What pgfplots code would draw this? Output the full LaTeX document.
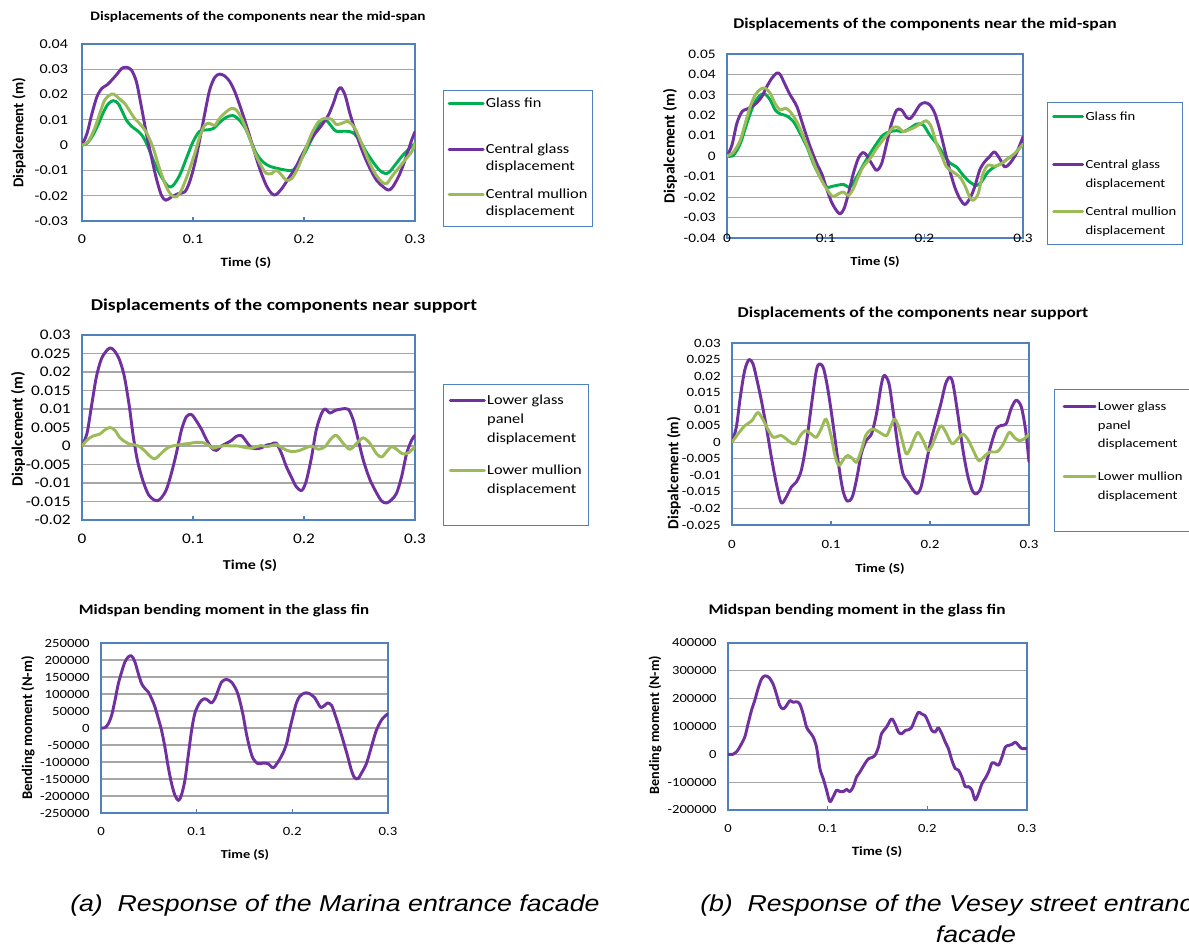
\documentclass[border=0pt]{standalone}
\usepackage{fontspec}
\setmainfont{Carlito}[FakeStretch=1.18]
\newfontfamily\ylfont{Carlito}
\newfontfamily\capfont{Liberation Sans}[FakeStretch=1.16]
\usepackage{pgfplots}
\pgfplotsset{compat=1.18}
\definecolor{cpurple}{HTML}{7030A0}
\definecolor{cgreen}{HTML}{00B050}
\definecolor{clgreen}{HTML}{9BBB59}
\definecolor{frameblue}{HTML}{4F81BD}
\definecolor{gridgray}{HTML}{A6A6A6}
\newcommand\fs[1]{\fontsize{#1}{#1}\selectfont}
\newcommand\LE[1]{{\begin{tabular}[t]{@{}l@{}}#1\end{tabular}}}
\pgfplotsset{
  excel/.style={
    scale only axis, anchor=south west,
    xmin=0, xmax=0.3,
    xtick={0,0.1,0.2,0.3}, xticklabels={0,0.1,0.2,0.3},
    scaled y ticks=false, scaled x ticks=false,
    axis line style={draw=frameblue, line width=1.1pt},
    ymajorgrids, grid style={draw=gridgray, line width=0.8pt},
    xtick pos=bottom, ytick pos=left, tick align=inside, major tick length=3pt,
    x tick style={draw=frameblue, line width=0.9pt},
    y tick style={draw=none},
    yticklabel style={anchor=east, xshift=-5pt},
    every axis plot/.append style={line width=2.2pt, line cap=round, line join=round, smooth, tension=0.5, mark=none},
    legend style={draw=frameblue, line width=0.9pt, anchor=north west, cells={anchor=base west}, nodes={inner sep=1pt, text depth=}, column sep=0pt, fill=white},
  },
}
\begin{document}
\begin{tikzpicture}
\path[use as bounding box] (0,0) rectangle (891.75pt,711pt);
\clip (0,0) rectangle (891.75pt,711pt);

% ---------------- Panel 1 ----------------
\begin{axis}[excel, at={(61.5pt,545.25pt)}, width=249.75pt, height=132.75pt,
  ymin=-0.03, ymax=0.04,
  ytick={-0.03,-0.02,-0.01,0,0.01,0.02,0.03,0.04},
  yticklabels={-0.03,-0.02,-0.01,0,0.01,0.02,0.03,0.04},
  tick label style={font=\fs{10.2}},
  yticklabel style={xshift=-2pt},
  xticklabel style={yshift=-7pt},
  legend style={at={(1.084,0.740)}, font=\fontsize{10.4}{12.75}\selectfont, row sep=6.6pt, inner xsep=3pt, inner ysep=3pt},
  legend image code/.code={\draw[#1, line width=2.2pt] (0pt,3.2pt) -- (25.5pt,3.2pt);},
]
\addplot[cgreen] coordinates {(0,0) (0.0045,0.0007) (0.0099,0.004) (0.015,0.0086) (0.0195,0.0132) (0.0234,0.0162) (0.028,0.0176) (0.0325,0.0165) (0.0364,0.0132) (0.040,0.0099) (0.0445,0.0075) (0.0505,0.0055) (0.055,0.0033) (0.0595,-0.0007) (0.0655,-0.0073) (0.0715,-0.0125) (0.0776,-0.0163) (0.082,-0.016) (0.088,-0.0119) (0.094,-0.0053) (0.100,0.0013) (0.106,0.0055) (0.112,0.006) (0.118,0.0065) (0.124,0.009) (0.130,0.011) (0.136,0.0117) (0.142,0.0098) (0.148,0.006) (0.153,0.0005) (0.158,-0.004) (0.164,-0.007) (0.170,-0.0085) (0.177,-0.0093) (0.184,-0.0099) (0.190,-0.0099) (0.196,-0.0066) (0.202,-0.002) (0.208,0.0033) (0.214,0.0086) (0.219,0.0102) (0.225,0.0073) (0.229,0.0055) (0.238,0.0055) (0.244,0.0049) (0.250,0.002) (0.256,-0.0026) (0.262,-0.0066) (0.268,-0.0099) (0.273,-0.0112) (0.277,-0.0106) (0.283,-0.0073) (0.289,-0.004) (0.295,-0.0013) (0.300,0.0007)};
\addlegendentry{\LE{Glass fin\\\strut}}
\addplot[cpurple] coordinates {(0,0) (0.0045,0.0046) (0.009,0.0125) (0.0135,0.0192) (0.018,0.0225) (0.0225,0.0238) (0.027,0.0258) (0.0316,0.0281) (0.036,0.0304) (0.040,0.0308) (0.0445,0.0297) (0.049,0.0251) (0.0535,0.0152) (0.058,0.0046) (0.0625,-0.0046) (0.067,-0.0132) (0.0715,-0.0198) (0.0755,-0.0218) (0.0806,-0.0205) (0.0866,-0.0192) (0.0926,-0.0185) (0.097,-0.0145) (0.1016,-0.0073) (0.106,0.002) (0.1106,0.0125) (0.115,0.0218) (0.1196,0.0268) (0.124,0.0281) (0.1287,0.0273) (0.1332,0.0251) (0.1377,0.0211) (0.142,0.0159) (0.148,0.0079) (0.154,-0.0007) (0.160,-0.0092) (0.166,-0.0159) (0.171,-0.0192) (0.1747,-0.0196) (0.180,-0.0172) (0.186,-0.0132) (0.192,-0.0092) (0.198,-0.004) (0.204,0.0007) (0.210,0.0046) (0.216,0.0079) (0.222,0.0119) (0.2264,0.0165) (0.230,0.0211) (0.233,0.0228) (0.237,0.0198) (0.2414,0.0125) (0.2474,0.004) (0.2534,-0.0033) (0.2594,-0.0092) (0.2654,-0.0139) (0.2714,-0.0165) (0.276,-0.0178) (0.280,-0.0165) (0.2865,-0.0112) (0.2925,-0.004) (0.297,0.002) (0.300,0.0053)};
\addlegendentry{\LE{Central glass\\displacement}}
\addplot[clgreen] coordinates {(0,0) (0.0054,0.0013) (0.0114,0.0066) (0.016,0.0125) (0.0204,0.0178) (0.025,0.0198) (0.0285,0.0202) (0.034,0.0182) (0.0385,0.0165) (0.043,0.0135) (0.0475,0.0105) (0.052,0.0085) (0.058,0.005) (0.064,-0.001) (0.070,-0.0095) (0.076,-0.0165) (0.0806,-0.0198) (0.085,-0.0205) (0.0896,-0.0178) (0.0956,-0.0112) (0.1016,-0.0033) (0.106,0.0033) (0.1106,0.0079) (0.115,0.0086) (0.1196,0.0078) (0.124,0.0106) (0.130,0.0132) (0.1347,0.0145) (0.139,0.0139) (0.1437,0.0106) (0.150,0.004) (0.156,-0.0033) (0.162,-0.0086) (0.166,-0.0112) (0.171,-0.0112) (0.175,-0.0099) (0.180,-0.0119) (0.184,-0.0139) (0.189,-0.0132) (0.195,-0.0086) (0.201,-0.002) (0.207,0.0046) (0.213,0.0092) (0.219,0.0106) (0.225,0.0102) (0.229,0.0082) (0.234,0.0086) (0.2396,0.0094) (0.2459,0.0066) (0.2519,0.0007) (0.258,-0.0059) (0.264,-0.0112) (0.270,-0.0145) (0.2745,-0.0152) (0.279,-0.0125) (0.285,-0.0092) (0.291,-0.0059) (0.297,-0.0026) (0.300,0.0007)};
\addlegendentry{\LE{Central mullion\\displacement}}
\end{axis}

% ---------------- Panel 2 ----------------
\begin{axis}[excel, at={(545.25pt,532.5pt)}, width=222pt, height=138pt,
  ymin=-0.04, ymax=0.05,
  ytick={-0.04,-0.03,-0.02,-0.01,0,0.01,0.02,0.03,0.04,0.05},
  yticklabels={-0.04,-0.03,-0.02,-0.01,0,0.01,0.02,0.03,0.04,0.05},
  tick label style={font=\fs{9.75}},
  xticklabel style={anchor=center},
  legend style={at={(1.081,0.739)}, font=\fontsize{9.3}{14.25}\selectfont, row sep=5.1pt, inner xsep=3.5pt, inner ysep=2.5pt},
  legend image code/.code={\draw[#1, line width=2.2pt] (0pt,3pt) -- (21.75pt,3pt);},
]
\addplot[cgreen] coordinates {(0,0) (0.0067,0.0005) (0.0135,0.0062) (0.0185,0.0136) (0.0236,0.021) (0.0286,0.0267) (0.034,0.030) (0.0388,0.0303) (0.0438,0.0275) (0.0489,0.0226) (0.054,0.0207) (0.0607,0.0197) (0.0674,0.0169) (0.0741,0.0112) (0.081,0.0046) (0.0876,-0.0036) (0.0944,-0.0102) (0.101,-0.0151) (0.106,-0.0148) (0.111,-0.0143) (0.118,-0.0138) (0.1247,-0.0151) (0.1314,-0.0102) (0.138,-0.0044) (0.145,0.0013) (0.1517,0.0062) (0.158,0.0103) (0.165,0.012) (0.172,0.0125) (0.1786,0.012) (0.1853,0.0136) (0.192,0.0157) (0.1988,0.0153) (0.2056,0.0103) (0.2123,0.0062) (0.219,0.0013) (0.2258,-0.0033) (0.2325,-0.0052) (0.2393,-0.0093) (0.246,-0.0126) (0.2527,-0.0143) (0.2578,-0.0126) (0.2645,-0.0077) (0.2713,-0.0052) (0.278,-0.0036) (0.2848,-0.0011) (0.2915,0.001) (0.300,0.0062)};
\addlegendentry{\LE{Glass fin\\\strut}}
\addplot[cpurple] coordinates {(0,0) (0.005,0.0054) (0.010,0.0161) (0.0152,0.0218) (0.020,0.023) (0.0253,0.0243) (0.0303,0.0262) (0.0354,0.0292) (0.0404,0.0341) (0.0455,0.0382) (0.0506,0.0407) (0.054,0.0399) (0.059,0.0349) (0.064,0.030) (0.0708,0.0243) (0.0775,0.0144) (0.0843,0.0046) (0.091,-0.0036) (0.096,-0.0085) (0.101,-0.0159) (0.106,-0.0225) (0.111,-0.0266) (0.1146,-0.0282) (0.1186,-0.0257) (0.123,-0.0184) (0.128,-0.0085) (0.133,-0.0011) (0.1375,0.0018) (0.1415,0.0005) (0.1466,-0.0036) (0.1517,-0.0069) (0.1567,-0.0036) (0.1618,0.0062) (0.1668,0.0161) (0.172,0.0226) (0.177,0.0226) (0.182,0.019) (0.186,0.0185) (0.190,0.021) (0.1955,0.0251) (0.2005,0.0262) (0.2056,0.0251) (0.2106,0.021) (0.2157,0.0128) (0.2207,0.003) (0.2258,-0.0069) (0.2308,-0.0151) (0.236,-0.0208) (0.241,-0.0236) (0.246,-0.0208) (0.251,-0.0151) (0.256,-0.0069) (0.261,-0.0028) (0.266,-0.0003) (0.271,0.0021) (0.2763,-0.0011) (0.2814,-0.0052) (0.2865,-0.0036) (0.2932,0.0013) (0.300,0.0095)};
\addlegendentry{\LE{Central glass\\displacement}}
\addplot[clgreen] coordinates {(0,0) (0.0067,0.0021) (0.0135,0.0079) (0.0185,0.0161) (0.0236,0.0243) (0.0286,0.030) (0.034,0.0328) (0.0388,0.0333) (0.0438,0.0308) (0.0489,0.0256) (0.054,0.0226) (0.059,0.0235) (0.064,0.0218) (0.0708,0.0169) (0.0775,0.0095) (0.0843,0.0013) (0.091,-0.0069) (0.0977,-0.0134) (0.1045,-0.0184) (0.108,-0.0197) (0.113,-0.0184) (0.118,-0.0175) (0.123,-0.0192) (0.128,-0.0159) (0.133,-0.0102) (0.138,-0.0052) (0.145,-0.0011) (0.1517,0.0038) (0.158,0.0079) (0.1634,0.0112) (0.1685,0.0141) (0.1736,0.0141) (0.1786,0.012) (0.184,0.0128) (0.190,0.0141) (0.197,0.0161) (0.202,0.0174) (0.207,0.0144) (0.2123,0.0062) (0.2174,0.0005) (0.2224,-0.0052) (0.229,-0.0077) (0.236,-0.0102) (0.241,-0.0143) (0.246,-0.020) (0.2494,-0.0216) (0.2545,-0.0184) (0.2595,-0.0085) (0.2645,-0.0044) (0.2713,-0.0049) (0.278,-0.0036) (0.2848,-0.0011) (0.2915,0.0013) (0.300,0.0059)};
\addlegendentry{\LE{Central mullion\\displacement}}
\end{axis}

% ---------------- Panel 3 ----------------
\begin{axis}[excel, at={(61.5pt,321pt)}, width=249.75pt, height=138.75pt,
  ymin=-0.02, ymax=0.03,
  ytick={-0.02,-0.015,-0.01,-0.005,0,0.005,0.01,0.015,0.02,0.025,0.03},
  yticklabels={-0.02,-0.015,-0.01,-0.005,0,0.005,0.01,0.015,0.02,0.025,0.03},
  tick label style={font=\fs{11}},
  xticklabel style={yshift=-7pt},
  legend style={at={(1.084,0.735)}, font=\fontsize{10.4}{14.25}\selectfont, row sep=7.75pt, inner xsep=4pt, inner ysep=4.2pt},
  legend image code/.code={\draw[#1, line width=2.2pt] (0pt,3.2pt) -- (25.5pt,3.2pt);},
]
\addplot[cpurple] coordinates {(0,0) (0.0045,0.0034) (0.0084,0.0105) (0.0129,0.0186) (0.0174,0.0235) (0.022,0.0257) (0.0255,0.0265) (0.029,0.0258) (0.0335,0.0235) (0.038,0.019) (0.0425,0.011) (0.046,0.003) (0.050,-0.004) (0.055,-0.0095) (0.060,-0.0132) (0.065,-0.0146) (0.068,-0.0148) (0.0715,-0.014) (0.076,-0.0118) (0.0806,-0.0073) (0.085,-0.002) (0.0896,0.0043) (0.094,0.0079) (0.0986,0.0085) (0.103,0.0068) (0.1076,0.0045) (0.112,0.0018) (0.1166,-0.0005) (0.121,-0.0012) (0.1256,0) (0.130,0.0007) (0.1347,0.0015) (0.139,0.0026) (0.1437,0.0028) (0.148,0.0012) (0.1527,-0.0005) (0.157,-0.0007) (0.1617,-0.0005) (0.166,0.0002) (0.1707,0.0005) (0.175,0.0008) (0.1797,-0.002) (0.184,-0.0055) (0.1888,-0.0085) (0.193,-0.011) (0.198,-0.012) (0.202,-0.0095) (0.2068,-0.003) (0.211,0.0043) (0.2158,0.0088) (0.219,0.01) (0.2234,0.0089) (0.228,0.0096) (0.2339,0.01) (0.240,0.0099) (0.2444,0.007) (0.2474,0.0035) (0.2534,-0.0038) (0.2594,-0.0091) (0.2654,-0.0127) (0.270,-0.0149) (0.2745,-0.0154) (0.279,-0.0145) (0.2835,-0.0127) (0.288,-0.0082) (0.2925,-0.002) (0.297,0.0016) (0.300,0.0029)};
\addlegendentry{\LE{Lower glass\\panel\\displacement}}
\addplot[clgreen] coordinates {(0,0) (0.0045,0.0016) (0.0099,0.0027) (0.016,0.0032) (0.0204,0.0043) (0.025,0.005) (0.0295,0.0043) (0.034,0.0023) (0.0385,0.0012) (0.043,0.0005) (0.0475,0.0003) (0.052,-0.0002) (0.0565,-0.0013) (0.061,-0.0027) (0.0655,-0.0035) (0.070,-0.0024) (0.0745,-0.0011) (0.079,-0.0002) (0.085,0.0002) (0.091,0.0005) (0.097,0.0007) (0.103,0.001) (0.109,0.0009) (0.1136,0.0003) (0.118,-0.0006) (0.1226,-0.0002) (0.1287,0.0001) (0.1347,0) (0.1407,0) (0.1467,-0.0004) (0.1527,-0.0006) (0.157,-0.0002) (0.1617,0.0001) (0.166,-0.0002) (0.1707,0.0001) (0.175,0.0004) (0.1797,-0.0004) (0.184,-0.0011) (0.1888,-0.0015) (0.195,-0.0013) (0.201,-0.0006) (0.2068,0) (0.213,-0.0009) (0.219,-0.0002) (0.2234,0.0016) (0.229,0.0029) (0.2354,0.0007) (0.2414,-0.0009) (0.2474,0.0007) (0.2534,0.0022) (0.2594,0.0007) (0.2654,-0.0021) (0.270,-0.003) (0.2745,-0.0015) (0.279,-0.0002) (0.2835,-0.0009) (0.288,-0.002) (0.2925,-0.0021) (0.297,-0.0011) (0.300,-0.0002)};
\addlegendentry{\LE{Lower mullion\\displacement\\\strut}}
\end{axis}

% ---------------- Panel 4 ----------------
\begin{axis}[excel, at={(549pt,317.25pt)}, width=222.75pt, height=136.5pt,
  ymin=-0.025, ymax=0.03,
  ytick={-0.025,-0.02,-0.015,-0.01,-0.005,0,0.005,0.01,0.015,0.02,0.025,0.03},
  yticklabels={-0.025,-0.02,-0.015,-0.01,-0.005,0,0.005,0.01,0.015,0.02,0.025,0.03},
  tick label style={font=\fs{9.5}},
  xticklabel style={yshift=-8pt},
  legend style={at={(1.084,0.747)}, font=\fontsize{9.3}{13.9}\selectfont, row sep=8.8pt, inner xsep=6pt, inner ysep=5pt},
  legend image code/.code={\draw[#1, line width=2.2pt] (0pt,3pt) -- (23.25pt,3pt);},
]
\addplot[cpurple] coordinates {(0,0) (0.0044,0.0046) (0.0084,0.0137) (0.0128,0.0217) (0.0172,0.025) (0.0212,0.0237) (0.0253,0.0187) (0.0296,0.0127) (0.0347,0.0046) (0.0397,-0.0044) (0.0448,-0.0125) (0.0498,-0.0183) (0.0549,-0.0165) (0.060,-0.0135) (0.065,-0.012) (0.070,-0.0085) (0.075,-0.0004) (0.080,0.0107) (0.0852,0.0217) (0.0886,0.0237) (0.0926,0.0222) (0.097,0.0157) (0.102,0.0056) (0.107,-0.0054) (0.112,-0.0145) (0.1165,-0.0178) (0.1215,-0.0165) (0.1263,-0.0105) (0.1306,-0.0034) (0.1357,0.0006) (0.141,0.0026) (0.146,0.0087) (0.151,0.0177) (0.154,0.0202) (0.1586,0.0177) (0.1626,0.0097) (0.1677,-0.0014) (0.1727,-0.0095) (0.1778,-0.012) (0.183,-0.0145) (0.187,-0.0155) (0.191,-0.0135) (0.196,-0.0064) (0.201,0.0006) (0.2064,0.0066) (0.211,0.0117) (0.2158,0.0177) (0.220,0.0197) (0.2232,0.0177) (0.228,0.0087) (0.2333,-0.0024) (0.2384,-0.0105) (0.2434,-0.015) (0.2475,-0.0155) (0.2518,-0.0135) (0.2569,-0.0064) (0.262,-0.0004) (0.267,0.0041) (0.272,0.0051) (0.277,0.0056) (0.282,0.0102) (0.287,0.0127) (0.2922,0.0107) (0.2966,0.0036) (0.300,-0.0059)};
\addlegendentry{\LE{Lower glass\\panel\\displacement}}
\addplot[clgreen] coordinates {(0,0) (0.006,0.0025) (0.013,0.005) (0.02,0.0065) (0.026,0.009) (0.031,0.007) (0.037,0.0035) (0.042,0.0015) (0.05,0.002) (0.059,0) (0.064,-0.0005) (0.069,0.002) (0.074,0.0035) (0.08,0.0025) (0.085,0.0015) (0.09,0.004) (0.095,0.007) (0.1,0.002) (0.104,-0.004) (0.108,-0.007) (0.113,-0.005) (0.117,-0.004) (0.122,-0.005) (0.126,-0.006) (0.131,-0.002) (0.135,0.002) (0.139,0.0035) (0.143,0.004) (0.149,0.003) (0.156,0.002) (0.16,0.0045) (0.164,0.007) (0.168,0.005) (0.172,0.0005) (0.176,-0.0035) (0.18,-0.002) (0.184,0.001) (0.188,0.003) (0.193,0.0005) (0.198,-0.0025) (0.202,-0.001) (0.206,0.002) (0.211,0.005) (0.216,0.003) (0.22,0.0005) (0.223,-0.0005) (0.228,0.001) (0.233,0.0025) (0.238,0.001) (0.243,-0.002) (0.249,-0.0055) (0.254,-0.0045) (0.26,-0.003) (0.268,-0.0028) (0.274,-0.0005) (0.28,0.003) (0.285,0.0015) (0.29,0.0005) (0.295,0.001) (0.3,0.0025)};
\addlegendentry{\LE{Lower mullion\\displacement\\\strut}}
\end{axis}

% ---------------- Panel 5 ----------------
\begin{axis}[excel, at={(75.75pt,101.25pt)}, width=215.25pt, height=127.5pt,
  ymin=-250000, ymax=250000,
  ytick={-250000,-200000,-150000,-100000,-50000,0,50000,100000,150000,200000,250000},
  yticklabels={-250000,-200000,-150000,-100000,-50000,0,50000,100000,150000,200000,250000},
  tick label style={font=\fs{9.4}},
  xticklabel style={yshift=-7pt},
]
\addplot[cpurple] coordinates {(0,0) (0.0042,1000) (0.0077,12700) (0.0111,37000) (0.0146,81000) (0.0181,130000) (0.0216,165000) (0.025,194000) (0.0285,209000) (0.032,212000) (0.0355,194000) (0.039,160000) (0.0425,130000) (0.046,116000) (0.0494,106000) (0.053,86000) (0.0564,62000) (0.06,27000) (0.0633,-7000) (0.0668,-56000) (0.0703,-115000) (0.0738,-164000) (0.0773,-198000) (0.081,-213000) (0.084,-198000) (0.0877,-154000) (0.091,-85000) (0.0947,-7000) (0.098,42000) (0.1016,67000) (0.105,81000) (0.1086,86000) (0.112,81000) (0.1155,73500) (0.119,86000) (0.1225,111000) (0.126,135000) (0.131,143000) (0.1364,135000) (0.1416,111000) (0.145,81000) (0.1486,37000) (0.152,-17000) (0.1556,-61000) (0.159,-90000) (0.164,-105000) (0.1695,-103000) (0.1747,-105000) (0.18,-117000) (0.185,-100000) (0.19,-75000) (0.194,-46000) (0.197,-7000) (0.2008,37000) (0.204,71500) (0.2077,93000) (0.213,103000) (0.218,101000) (0.2234,89000) (0.227,71500) (0.230,60000) (0.2338,66600) (0.237,73500) (0.241,66600) (0.2443,42000) (0.2478,12700) (0.253,-36000) (0.258,-85000) (0.2617,-124000) (0.265,-146000) (0.2687,-149000) (0.272,-134000) (0.2774,-105000) (0.2826,-56000) (0.2878,-7000) (0.293,22500) (0.2965,34000) (0.300,42000)};
\end{axis}

% ---------------- Panel 6 ----------------
\begin{axis}[excel, at={(546pt,103.5pt)}, width=224.25pt, height=125.25pt,
  ymin=-200000, ymax=400000,
  ytick={-200000,-100000,0,100000,200000,300000,400000},
  yticklabels={-200000,-100000,0,100000,200000,300000,400000},
  tick label style={font=\fs{9.3}},
  xticklabel style={yshift=-7pt},
]
\addplot[cpurple] coordinates {(0,0) (0.005,0) (0.0084,8300) (0.0117,26000) (0.0168,62000) (0.0201,109000) (0.0235,157000) (0.0268,193000) (0.030,234000) (0.0335,270000) (0.0369,282000) (0.0412,276000) (0.0453,252000) (0.0486,216000) (0.052,175000) (0.0553,163000) (0.0587,175000) (0.062,193000) (0.0654,187000) (0.0687,189000) (0.072,181000) (0.0754,145000) (0.0788,97600) (0.082,80000) (0.0855,62000) (0.0888,26000) (0.0922,-51000) (0.0955,-87000) (0.0989,-128500) (0.1022,-170000) (0.1056,-152000) (0.109,-128500) (0.1123,-134000) (0.1157,-134000) (0.119,-126000) (0.1223,-134000) (0.1257,-116000) (0.129,-81000) (0.1324,-63000) (0.1374,-33000) (0.141,-15500) (0.144,-12000) (0.1475,-3600) (0.151,26000) (0.154,74000) (0.159,97600) (0.164,127000) (0.1676,109000) (0.171,80000) (0.1743,74000) (0.178,86000) (0.181,88000) (0.1844,97600) (0.1877,127000) (0.191,151000) (0.1944,145000) (0.1978,139000) (0.201,115000) (0.2045,86000) (0.2078,80000) (0.211,95000) (0.2145,74000) (0.218,44000) (0.2212,20000) (0.2246,-21000) (0.228,-51000) (0.2313,-57000) (0.2346,-81000) (0.238,-116000) (0.2413,-116000) (0.2447,-128500) (0.248,-164000) (0.2514,-140000) (0.2548,-105000) (0.258,-87000) (0.2615,-63000) (0.2648,-31000) (0.2682,-33000) (0.2715,-39000) (0.2749,-9500) (0.2782,26000) (0.2816,32000) (0.285,35700) (0.2883,44000) (0.2916,32000) (0.295,20000) (0.300,22000)};
\end{axis}

% ---------------- titles and axis labels ----------------
\node[font=\bfseries\fs{9.7}] at (193.5pt,698.25pt) {Displacements of the components near the mid-span};
\node[font=\bfseries\fs{11.1}] at (693.75pt,693pt) {Displacements of the components near the mid-span};
\node[font=\bfseries\fs{12.45}] at (213pt,481.5pt) {Displacements of the components near support};
\node[font=\bfseries\fs{11.3}] at (684.75pt,476.25pt) {Displacements of the components near support};
\node[font=\bfseries\fs{10.75}] at (168pt,252.75pt) {Midspan bending moment in the glass fin};
\node[font=\bfseries\fs{11}] at (642.75pt,252.75pt) {Midspan bending moment in the glass fin};

\node[font=\bfseries\fs{9.5}] at (184.5pt,513.75pt) {Time (S)};
\node[font=\bfseries\fs{9.3}] at (656.25pt,514.5pt) {Time (S)};
\node[font=\bfseries\fs{10.2}] at (187.5pt,287.25pt) {Time (S)};
\node[font=\bfseries\fs{9.25}] at (660pt,284.25pt) {Time (S)};
\node[font=\bfseries\fs{9.1}] at (183.75pt,69.75pt) {Time (S)};
\node[font=\bfseries\fs{9.5}] at (657.75pt,72pt) {Time (S)};

\node[font=\ylfont\bfseries\fs{11.25}, rotate=90] at (14.25pt,611.25pt) {Dispalcement (m)};
\node[font=\ylfont\bfseries\fs{11.7}, rotate=90] at (502.5pt,601.5pt) {Dispalcement (m)};
\node[font=\ylfont\bfseries\fs{11.7}, rotate=90] at (13.5pt,389.25pt) {Dispalcement (m)};
\node[font=\ylfont\bfseries\fs{11.5}, rotate=90] at (505.5pt,356.25pt) {Dispalcement (m)};
\node[font=\ylfont\bfseries\fs{11}, rotate=90] at (21pt,165pt) {Bending moment (N-m)};
\node[font=\ylfont\bfseries\fs{10.6}, rotate=90] at (491.25pt,167.25pt) {Bending moment (N-m)};

% ---------------- captions ----------------
\node[anchor=base west, inner sep=0pt, font=\capfont\itshape\fs{17.25}] at (52.5pt,27.2pt) {(a)\hspace{11pt}Response of the Marina entrance facade};
\node[anchor=base west, inner sep=0pt, font=\capfont\itshape\fs{17.25}] at (525pt,27.2pt) {(b)\hspace{11pt}Response of the Vesey street entrance};
\node[anchor=base, inner sep=0pt, font=\capfont\itshape\fs{17.25}] at (732pt,3.75pt) {facade};
\end{tikzpicture}
\end{document}
